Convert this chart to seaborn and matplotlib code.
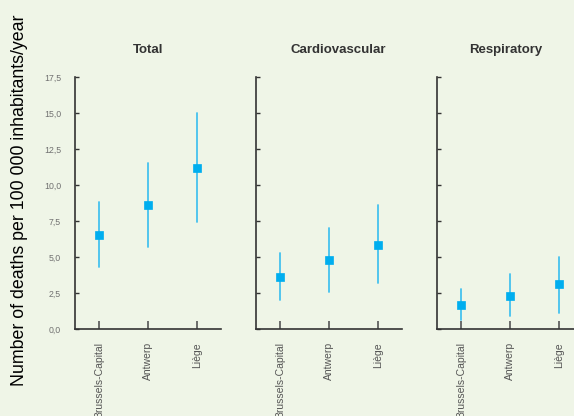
import numpy as np
import pandas as pd
import matplotlib
matplotlib.use("Agg")
import matplotlib.pyplot as plt
import seaborn as sns
from matplotlib.ticker import FuncFormatter

# ---- data ----
panels = ["Total", "Cardiovascular", "Respiratory"]
regions = ["Brussels-Capital", "Antwerp", "Liège"]
total_mean = [6.5, 8.6, 11.2]
total_low = [4.3, 5.7, 7.4]
total_high = [8.8, 11.5, 15.0]
cardio_mean = [3.6, 4.8, 5.8]
cardio_low = [2.0, 2.6, 3.2]
cardio_high = [5.3, 7.0, 8.6]
resp_mean = [1.7, 2.3, 3.1]
resp_low = [0.6, 0.9, 1.1]
resp_high = [2.8, 3.8, 5.0]
ylabel = "Number of deaths per 100 000 inhabitants/year"
yticks = [0.0, 2.5, 5.0, 7.5, 10.0, 12.5, 15.0, 17.5]

series = {
    "Total": (total_mean, total_low, total_high),
    "Cardiovascular": (cardio_mean, cardio_low, cardio_high),
    "Respiratory": (resp_mean, resp_low, resp_high),
}

rows = []
for p in panels:
    m, lo, hi = series[p]
    for r, a, b, c in zip(regions, m, lo, hi):
        for v in (b, a, c):
            rows.append({"panel": p, "region": r, "value": v})
df = pd.DataFrame(rows)

BG = "#eff5e7"
MARK = "#00aeef"
ERR = "#45c2ee"
DARK = "#333333"

sns.set_theme(style="white")
plt.rcParams["font.family"] = ["Liberation Sans", "DejaVu Sans"]

fig = plt.figure(figsize=(5.74, 4.16), dpi=100, facecolor=BG)

W, H = 574.0, 416.0
ax_bottom = 1 - 329 / H
ax_height = (329 - 77) / H
lefts = [75, 256, 437]
width = 146 / W
title_x = [0.5, 0.5626, 0.471]

fmt = FuncFormatter(lambda v, pos: f"{v:.1f}".replace(".", ","))

for i, p in enumerate(panels):
    ax = fig.add_axes([lefts[i] / W, ax_bottom, width, ax_height])
    ax.set_facecolor(BG)
    sub = df[df["panel"] == p]
    sns.pointplot(
        data=sub, x="region", y="value", order=regions,
        estimator="median", errorbar=lambda v: (v.min(), v.max()),
        color=MARK, markers="s", markersize=5.3, markeredgewidth=0.5,
        linestyle="none",
        err_kws={"color": ERR, "linewidth": 1.3, "zorder": 1},
        ax=ax,
    )
    ax.set_xlim(-0.5, 2.5)
    ax.set_ylim(0, 17.5)
    ax.set_yticks(yticks)
    ax.yaxis.set_major_formatter(fmt)
    for s in ["top", "right"]:
        ax.spines[s].set_visible(False)
    for s in ["left", "bottom"]:
        ax.spines[s].set_color(DARK)
        ax.spines[s].set_linewidth(1.2)
    ax.tick_params(axis="y", direction="in", length=3, width=1, color=DARK,
                   labelsize=6.3, labelcolor="#707070", pad=10, left=True)
    ax.tick_params(axis="x", direction="in", length=6, width=1.2, color="#555555",
                   labelsize=7.5, labelcolor="#555555", pad=9.5, bottom=True)
    ax.set_xticks(range(len(regions)))
    ax.set_xticklabels(regions, rotation=90, va="top", ha="center")
    if i > 0:
        ax.set_yticklabels([])
    ax.set_xlabel("")
    ax.set_ylabel("")
    ax.set_title(p, x=title_x[i], y=1.0, pad=17, fontsize=9.5,
                 fontweight="bold", color=DARK)

fig.text(0.034, 1 - 200 / H, ylabel, rotation=90, ha="center", va="center",
         fontsize=12.8, color="#000000")

fig.savefig("out.png", dpi=100, facecolor=BG)
